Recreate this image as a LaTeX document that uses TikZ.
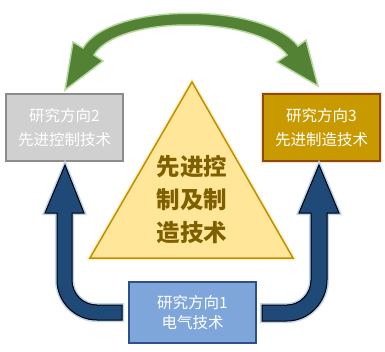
\documentclass[tikz,border=0pt]{standalone}
\usepackage{fontspec}
\newfontfamily\cjk{Noto Sans CJK SC}
\usetikzlibrary{positioning}

\definecolor{boxgray}{HTML}{D0D0D0}
\definecolor{linegray}{HTML}{8C8C8C}
\definecolor{boxgold}{HTML}{C89A00}
\definecolor{linegold}{HTML}{8A4A12}
\definecolor{boxblue}{HTML}{7EA6DA}
\definecolor{lineblue}{HTML}{2F4F86}
\definecolor{trifill}{HTML}{FFE699}
\definecolor{triline}{HTML}{C09000}
\definecolor{tritext}{HTML}{7F6000}
\definecolor{arcgreen}{HTML}{548235}
\definecolor{arcglow}{HTML}{B5D8A0}
\definecolor{upblue}{HTML}{1F4A78}
\definecolor{upglow}{HTML}{BDD3EE}

\tikzset{
  dirbox/.style={draw, line width=1.5pt, minimum width=117pt, minimum height=67pt,
    inner sep=0pt, align=center, text=white, font=\cjk\fontsize{15.5}{24}\selectfont},
  uparrow/.style={fill=upblue, draw=black, line width=1pt,
    preaction={draw=upglow, line width=4pt}},
}

\begin{document}
\begin{tikzpicture}[x=1pt, y=-1pt]
    \useasboundingbox (0, 0) rectangle (385, 351);
    \draw[fill=arcgreen, draw=arcglow, line width=1.5pt] (65, 90) -- (73, 42) -- (83, 48)
      .. controls (110, 2) and (264, 2) .. (298, 46) -- (306, 40) -- (318, 86) -- (277, 62) -- (287, 55)
      .. controls (256, 15) and (118, 15) .. (94, 55) -- (103, 61) -- cycle;
    \draw[fill=trifill, draw=triline, line width=1.5pt, preaction={draw=trifill!60, line width=4pt}]
      (192, 82) -- (293, 258) -- (90, 258) -- cycle;
    \node[text=tritext, align=center, font=\cjk\bfseries\fontsize{23.5}{33}\selectfont] (core) at (192, 200)
      {先进控\\制及制\\造技术};
    \node[dirbox, fill=boxgray, draw=linegray] (dir2) at (64.5, 127.5) {研究方向2\\先进控制技术};
    \node[dirbox, fill=boxgold, draw=linegold, preaction={draw=orange!25, line width=4pt}] (dir3) at (321.5, 127.5)
      {研究方向3\\先进制造技术};
    \node[dirbox, fill=boxblue, draw=lineblue, minimum width=127pt, minimum height=61pt,
      font=\cjk\fontsize{15.5}{20}\selectfont] (dir1) at (192.5, 312.5) {研究方向1\\电气技术};
    \draw[uparrow] (65, 165) -- (84, 213) -- (72, 213) -- (72, 280)
      .. controls (72, 294) and (83, 305) .. (97, 305) -- (122, 305) -- (122, 320) -- (97, 320)
      .. controls (75, 320) and (57, 302) .. (57, 280) -- (57, 213) -- (45, 213) -- cycle;
    \draw[uparrow] (319, 165) -- (339, 213) -- (327, 213) -- (327, 280)
      .. controls (327, 302) and (309, 321) .. (287, 321) -- (262, 321) -- (262, 305) -- (287, 305)
      .. controls (300, 305) and (311, 294) .. (311, 280) -- (311, 213) -- (299, 213) -- cycle;
  \end{tikzpicture}
\end{document}
